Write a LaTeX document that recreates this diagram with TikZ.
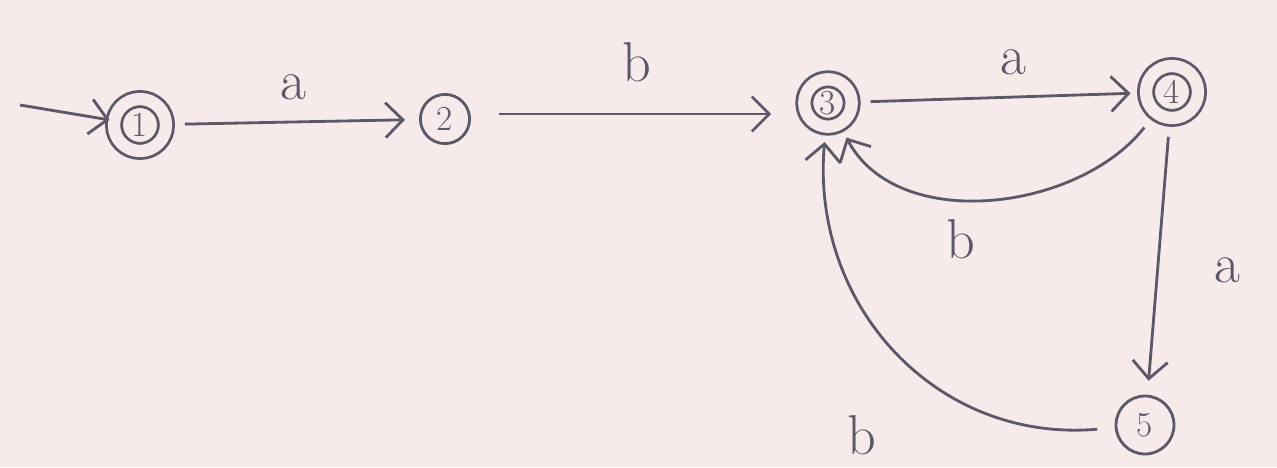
\documentclass[tikz,border=0pt]{standalone}
\usepackage{tikz}
\usetikzlibrary{arrows.meta,positioning,calc}
\definecolor{pencil}{RGB}{92,88,104}
\definecolor{paper}{RGB}{247,234,234}
\tikzset{
  state/.style  = {draw=pencil, circle, line width=1.6pt, inner sep=0pt,
                   text=pencil, font=\fontsize{20}{24}\selectfont},
  accept/.style = {state, double=paper, double distance=7pt},
  trans/.style  = {-{Straight Barb[length=3.5mm,width=7mm]}, line width=1.6pt,
                   draw=pencil, shorten <=10pt, shorten >=8pt},
  lbl/.style    = {text=pencil, font=\fontsize{32}{36}\selectfont},
}

\begin{document}
\begin{tikzpicture}[node distance=1cm and 1cm]
\fill[paper] (0,0) rectangle (25.54,9.34);
\coordinate (start) at (0.4,7.24);
\node[accept, minimum size=29.6pt] (q1) at (2.8,6.84) {1};
\node[state, minimum size=28pt] (q2) at (8.9,6.96) {2};
\node[accept, minimum size=27pt] (q3) at (16.56,7.28) {3};
\node[accept, minimum size=29.6pt] (q4) at (23.44,7.5) {4};
\node[state, minimum size=33pt] (q5) at (22.9,0.84) {5};

\draw[trans, shorten <=0pt, shorten >=2pt] (start) -- (q1);
\draw[trans] (q1) -- node[lbl, above=3mm] (la1) {a} (q2);
\draw[trans, shorten <=16pt, shorten >=18pt] ([yshift=1mm]q2.east) --
   node[lbl, above=5mm] (lb2) {b} ([yshift=1mm]q2.east -| q3.west);
\draw[trans] (q3) -- node[lbl, pos=0.55, above=3mm] (la3) {a} (q4);
\draw[trans] (q4) to[out=232, in=-62, looseness=1.0]
   node[lbl, pos=0.58, below=3mm] (lb4) {b} (q3);
\draw[trans] (q4) -- node[lbl, pos=0.55, right=10mm] (la5) {a} (q5);
\draw[trans] (q5) to[out=185, in=-95, looseness=1.1]
   node[lbl, pos=0.3, below left=1mm and 17.5mm] (lb6) {b} (q3);
\end{tikzpicture}
\end{document}
